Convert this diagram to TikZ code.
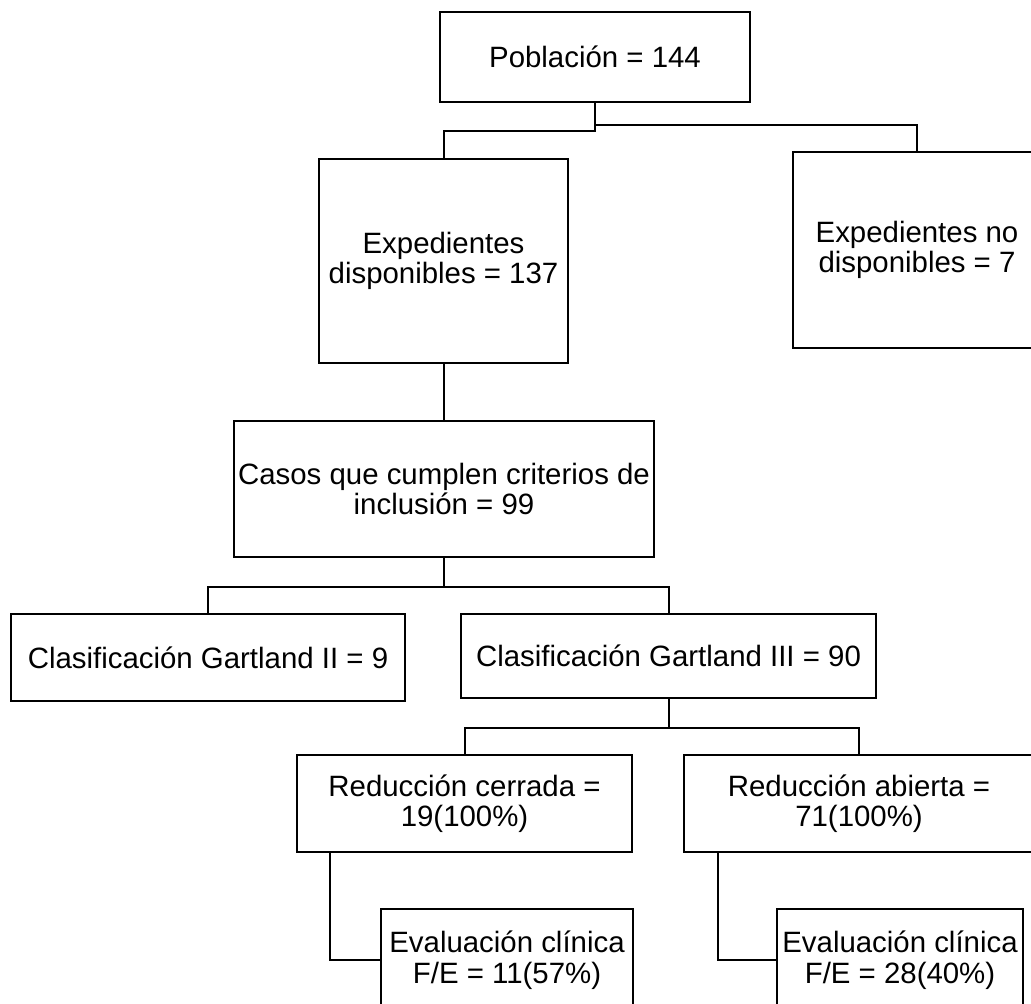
\documentclass[tikz,border=0pt]{standalone}
\usepackage{fontspec}
\setmainfont{Liberation Sans}
\usetikzlibrary{
    calc,
    positioning
}
\tikzset{
  box/.style  = {draw, line width=1pt, inner sep=0pt, align=center,
                 font=\fontsize{14.7}{15.2}\selectfont},
  link/.style = {line width=1pt}
}

\begin{document}
\begin{tikzpicture}[x=0.5pt,y=-0.5pt]
    \useasboundingbox (0,0) rectangle (1031,1003);
    \clip (0,0) rectangle (1031,1003);

    \node[box, minimum width=155pt,   minimum height=45pt]   (pob)     at (595,57)      {Población = 144};
    \node[box, minimum width=124.5pt, minimum height=102pt]  (dispo)   at (443.5,261)   {Expedientes\\disponibles = 137};
    \node[box, minimum width=124pt,   minimum height=98pt]   (nodispo) at (917,250)     {Expedientes no\\disponibles = 7};
    \node[box, minimum width=210pt,   minimum height=68pt]   (casos)   at (444,489)     {Casos que cumplen criterios de\\inclusión = 99};
    \node[box, minimum width=197pt,   minimum height=43.5pt] (gII)     at (208,657.5)   {Clasificación Gartland II = 9};
    \node[box, minimum width=207.5pt, minimum height=42pt]   (gIII)    at (668.5,656)   {Clasificación Gartland III = 90};
    \node[box, minimum width=167.5pt, minimum height=48.5pt] (cerrada) at (464.5,803.5) {Reducción cerrada =\\19(100\%)};
    \node[box, minimum width=175pt,   minimum height=48.5pt] (abierta) at (859,803.5)   {Reducción abierta =\\71(100\%)};
    \node[box, minimum width=126pt,   minimum height=51pt]   (evalC)   at (507,960)     {Evaluación clínica\\F/E = 11(57\%)};
    \node[box, minimum width=123pt,   minimum height=51pt]   (evalA)   at (900,960)     {Evaluación clínica\\F/E = 28(40\%)};

    \draw[link] (pob.south) -- ++(0,28) -| (dispo.north);
    \draw[link] (pob.south) -- ++(0,22) -| (nodispo.north);
    \draw[link] (dispo.south) -- (dispo.south |- casos.north);
    \draw[link] (casos.south) -- ++(0,29) coordinate (splitA);
    \draw[link] (gII.north) |- (splitA) -| (gIII.north);
    \draw[link] (gIII.south) -- ++(0,29) coordinate (splitB);
    \draw[link] (cerrada.north) |- (splitB) -| (abierta.north);
    \draw[link] ($(cerrada.south west)+(34,0)$) |- (evalC.west);
    \draw[link] ($(abierta.south west)+(35,0)$) |- (evalA.west);
\end{tikzpicture}
\end{document}
